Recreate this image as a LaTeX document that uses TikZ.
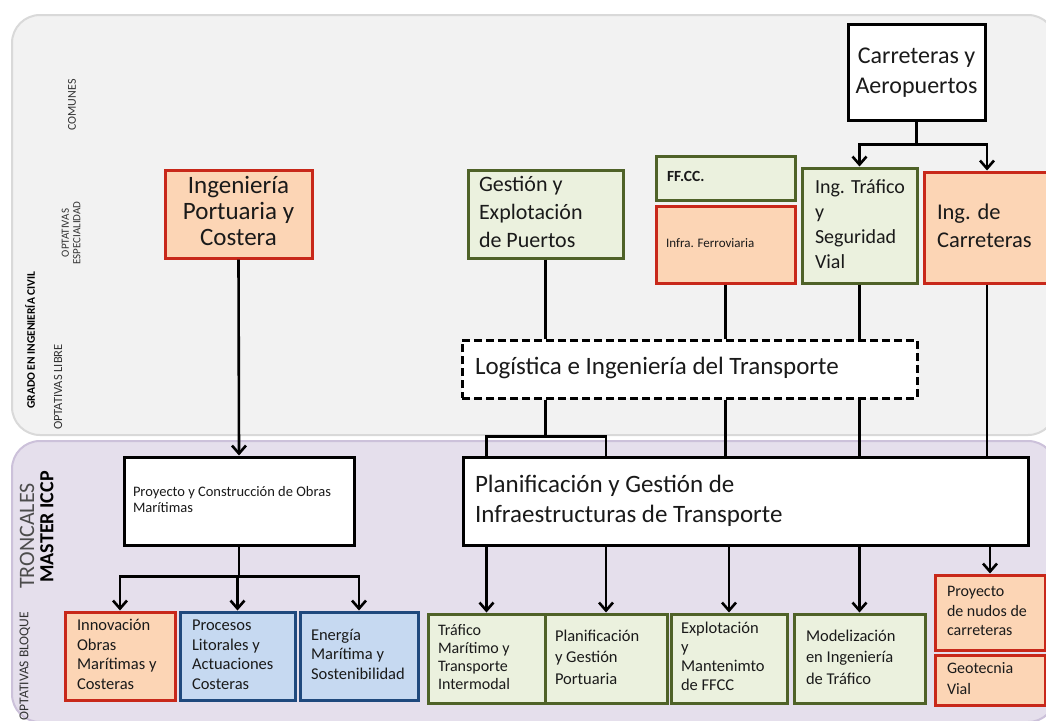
\documentclass[tikz,border=0pt]{standalone}
\usepackage{fontspec}
\setmainfont{Carlito}
\usetikzlibrary{arrows.meta}
\definecolor{peachF}{HTML}{FCD5B5}
\definecolor{redB}{HTML}{C8281A}
\definecolor{greenF}{HTML}{EBF1DE}
\definecolor{greenB}{HTML}{4F6228}
\definecolor{blueF}{HTML}{C6D9F1}
\definecolor{blueB}{HTML}{1F497D}
\definecolor{topF}{HTML}{F2F2F2}
\definecolor{topB}{HTML}{D9D9D9}
\definecolor{botF}{HTML}{E5DFEC}
\definecolor{botB}{HTML}{CCC1DA}
\definecolor{txt}{HTML}{1A1A1A}
\newcommand{\myfs}[2]{\fontsize{#1}{#2}\selectfont}
% name, x1, y1, x2, y2, style, align (l/c), left margin, text
\newcommand{\mybox}[9]{%
  \pgfmathsetmacro{\mybw}{#4-#2}%
  \pgfmathsetmacro{\mybh}{#5-#3}%
  \pgfmathsetmacro{\mytw}{#4-#2-2}%
  \node[#6, minimum width=\mybw pt, minimum height=\mybh pt, inner sep=1pt]
    (#1) at ({(#2+#4)/2},{(#3+#5)/2})
    {\makebox[\mytw pt][#7]{\hspace*{#8pt}\begin{tabular}{@{}#7@{}}#9\end{tabular}}};}
\tikzset{
  bx/.style={draw, line width=3pt, text=txt},
  pch/.style={bx, draw=redB, fill=peachF},
  grn/.style={bx, draw=greenB, fill=greenF},
  blu/.style={bx, draw=blueB, fill=blueF},
  wht/.style={bx, draw=black, fill=white},
  conn/.style={line width=2.6pt, draw=black},
  arr/.style={conn, -{Straight Barb[length=8pt,width=14pt]}},
  vlab/.style={rotate=90, text=black!80, align=center, inner sep=0pt},
  panel/.style={rounded corners=28pt, line width=2pt}
}
\begin{document}
\begin{tikzpicture}[x=1pt,y=-1pt]
\useasboundingbox (0,0) rectangle (1046,720);
\clip (0,0) rectangle (1046,720);
\fill[white] (0,0) rectangle (1046,720);
\draw[panel, draw=topB, fill=topF] (12,15) rectangle (1056,435);
\draw[panel, draw=botB, fill=botF] (12,441) rectangle (1056,722);

% side labels
\node[vlab, font=\myfs{12}{13}] (lcom) at (72,105) {COMUNES};
\node[vlab, font=\myfs{11}{11.5}] (lesp) at (71,233) {OPTATIVAS\\ESPECIALIDAD};
\node[vlab, font=\bfseries\myfs{11.5}{12}, text=black] (lgra) at (30,340) {GRADO EN INGENIERÍA CIVIL};
\node[vlab, font=\myfs{12.5}{13}] (llib) at (58,387) {OPTATIVAS LIBRE};
\node[vlab, font=\myfs{22}{23}, text=black!70] (ltro) at (27,536) {TRONCALES};
\node[vlab, font=\bfseries\myfs{20}{22}, text=black] (lmas) at (47,527) {MASTER ICCP};
\node[vlab, font=\myfs{13.5}{15}] (lblo) at (25,666) {OPTATIVAS BLOQUE};

% top panel boxes
\mybox{car}{848}{24}{985}{120}{wht, font=\myfs{24}{30}}{c}{0}{Carreteras y\\Aeropuertos}
\mybox{ipc}{165}{170}{312}{258}{pch, font=\myfs{25}{26}}{c}{0}{Ingeniería\\Portuaria y\\Costera}
\mybox{ges}{468}{170}{623}{258}{grn, font=\myfs{22}{28}}{l}{10}{Gestión y\\Explotación\\de Puertos}
\mybox{ffc}{656}{156}{795}{200}{grn, font=\bfseries\myfs{15.5}{17}}{l}{10}{FF.CC.}
\mybox{inf}{656}{206}{795}{283}{pch, font=\myfs{13}{15}}{l}{9}{Infra. Ferroviaria}
\mybox{ingt}{802}{168}{917}{283}{grn, font=\myfs{20}{25}}{l}{12}{Ing. Tráfico\\y\\Seguridad\\Vial}
\mybox{ingc}{924}{172}{1050}{283}{pch, font=\myfs{22.5}{28}}{l}{12}{Ing. de\\Carreteras}
\mybox{log}{462}{340}{917}{398}{wht, dashed, dash pattern=on 8pt off 4pt, font=\myfs{25}{28}}{l}{12}{Logística e Ingeniería del Transporte}

% master boxes
\mybox{pyc}{124}{457}{354}{545}{wht, font=\myfs{14.5}{16}}{l}{8}{Proyecto y Construcción de Obras\\Marítimas}
\mybox{plan}{463}{457}{1028}{545}{wht, font=\myfs{25}{30}}{l}{11}{Planificación y Gestión de\\Infraestructuras de Transporte}

% bottom boxes
\mybox{inn}{65}{612}{175}{700}{pch, font=\myfs{16.5}{19.5}}{l}{11}{Innovación\\Obras\\Marítimas y\\Costeras}
\mybox{pro}{180}{612}{295}{700}{blu, font=\myfs{16.5}{19.5}}{l}{11}{Procesos\\Litorales y\\Actuaciones\\Costeras}
\mybox{ene}{300}{612}{418}{700}{blu, font=\myfs{16.5}{19.5}}{l}{10}{Energía\\Marítima y\\Sostenibilidad}
\mybox{tm}{428}{614}{545}{703}{grn, font=\myfs{16}{18}}{l}{9}{Tráfico\\Marítimo y\\Transporte\\Intermodal}
\mybox{pgp}{545}{614}{667}{703}{grn, font=\myfs{16.5}{21.5}}{l}{9}{Planificación\\y Gestión\\Portuaria}
\mybox{exp}{671}{614}{787}{703}{grn, font=\myfs{16.5}{19}}{l}{9}{Explotación\\y\\Mantenimto\\de FFCC}
\mybox{mod}{794}{614}{925}{703}{grn, font=\myfs{16.5}{21.5}}{l}{11}{Modelización\\en Ingeniería\\de Tráfico}
\mybox{nud}{935}{575}{1045}{650}{pch, font=\myfs{16}{19.5}}{l}{11}{Proyecto\\de nudos de\\carreteras}
\mybox{geo}{935}{655}{1045}{705}{pch, font=\myfs{16}{21}}{l}{11}{Geotecnia\\Vial}

% connectors
\draw[conn] (car.south) -- ++(0,23) coordinate (carb);
\draw[arr] (carb) -| (ingt.north);
\draw[arr] (carb) -| (ingc.north);
\draw[arr] (ipc.south) -- (pyc.north);
\draw[conn] (ges.south) -- (ges.south |- log.north);
\draw[conn] (inf.south) -- (inf.south |- log.north);
\draw[conn] (ingt.south) -- (ingt.south |- log.north);
\draw[conn] (ingc.south) -- (ingc.south |- plan.north);
\draw[conn] (ges.south |- log.south) -- ++(0,37) coordinate (logb);
\draw[conn] (tm.north |- plan.north) |- (logb) -| (pgp.north |- plan.north);
\draw[conn] (inf.south |- log.south) -- (inf.south |- plan.north);
\draw[conn] (ingt.south |- log.south) -- (ingt.south |- plan.north);
\foreach \n in {tm,pgp,exp,mod,nud}
  \draw[arr] (\n.north |- plan.south) -- (\n.north);
\draw[conn] (pyc.south) -- ++(0,30) coordinate (pycb);
\draw[arr] (pycb) -| (inn.north);
\draw[arr] (pycb) -| (ene.north);
\draw[arr] (pro.north |- pycb) -- (pro.north);
\end{tikzpicture}
\end{document}
